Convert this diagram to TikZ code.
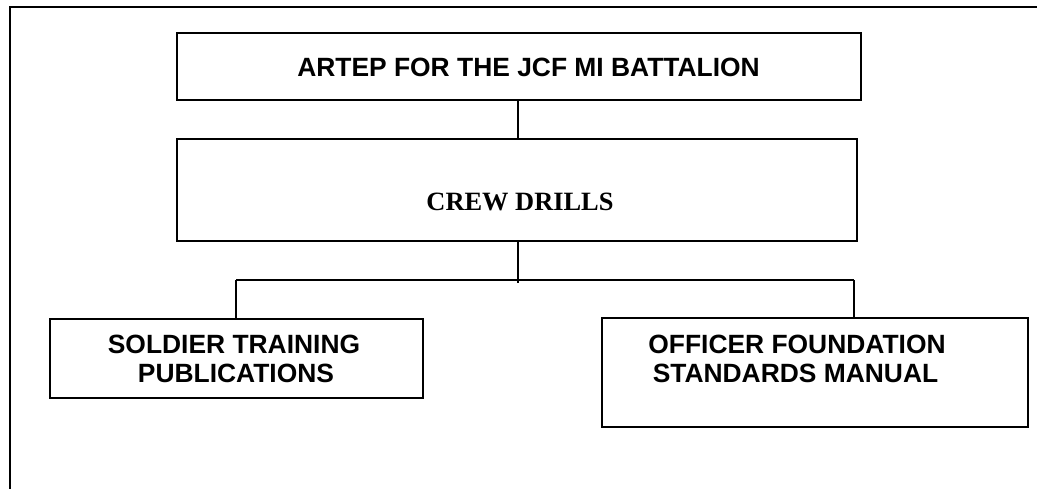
\documentclass[tikz,border=0pt]{standalone}
\usepackage{fontspec}
\setmainfont{Liberation Serif}
\setsansfont{Liberation Sans}
\begin{document}
\begin{tikzpicture}[x=1pt,y=-1pt,
  box/.style={draw,line width=2pt,inner sep=0pt,rectangle},
  conn/.style={line width=1.8pt},
  frame/.style={line width=2pt},
  lbl/.style={inner sep=0pt,anchor=base,font=\sffamily\bfseries\fontsize{26.4}{29.7}\selectfont},
  lblserif/.style={inner sep=0pt,anchor=base,font=\rmfamily\bfseries\fontsize{26.4}{29.7}\selectfont}]
\useasboundingbox (0,0) rectangle (1037,489);
% frame
\coordinate (fa) at (10.3,489);
\coordinate (fb) at (10.3,7.5);
\coordinate (fc) at (1037,7.5);
\draw[frame] (fa) -- (fb) -- (fc);
% boxes
\node[box,minimum width=684pt,minimum height=67pt] (top) at (519,66.5) {};
\node[box,minimum width=680pt,minimum height=102pt] (crew) at (517,190) {};
\node[box,minimum width=373pt,minimum height=79pt] (sold) at (236.5,358.5) {};
\node[box,minimum width=426pt,minimum height=109pt] (offi) at (815,372.5) {};
% texts
\node[lbl] (ttop) at (528.5,76.7) {ARTEP FOR THE JCF MI BATTALION};
\node[lblserif] (tcrew) at (520,210.7) {CREW DRILLS};
\node[lbl] (tsold1) at (234,353.3) {SOLDIER TRAINING};
\node[lbl] (tsold2) at (236,382.7) {PUBLICATIONS};
\node[lbl] (toffi1) at (797,353.3) {OFFICER FOUNDATION};
\node[lbl] (toffi2) at (795.5,382.7) {STANDARDS MANUAL};
% connectors
\coordinate (jm) at (518,283);
\coordinate (jl) at (236,280);
\coordinate (jr) at (854,280);
\draw[conn] (top.south -| jm) -- (crew.north -| jm);
\draw[conn] (crew.south -| jm) -- (jm);
\draw[conn] (jl) -- (jr);
\draw[conn] (jl) -- (sold.north -| jl);
\draw[conn] (jr) -- (offi.north -| jr);
\end{tikzpicture}
\end{document}
